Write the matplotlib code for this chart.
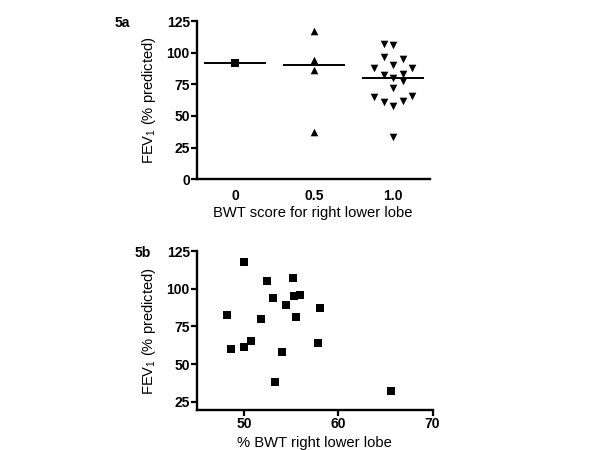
import matplotlib
matplotlib.use('Agg')
import matplotlib.pyplot as plt
import numpy as np

plt.rcParams['font.family'] = ['Liberation Sans', 'DejaVu Sans']
plt.rcParams['mathtext.fontset'] = 'custom'
plt.rcParams['mathtext.rm'] = 'Liberation Sans'
plt.rcParams['mathtext.default'] = 'rm'

# 5a: FEV1 by BWT score group
categorias = ['0', '0.5', '1.0']
fev_0 = [92]
fev_05 = [117, 94, 86, 37]
fev_10 = [107, 106, 97, 95, 88, 90, 88, 82, 83, 80, 78, 72, 65, 61, 58, 62, 66, 33]
# coluna de dispersão (beeswarm) para o grupo 1.0
coluna_10 = [-1, 0, -1, 1, -2, 0, 2, -1, 1, 0, 1, 0, -2, -1, 0, 1, 2, 0]
medianas = [92, 90, 80]

# 5b: FEV1 vs % BWT
bwt_pct = [50.0, 52.4, 55.2, 55.3, 55.9, 53.1, 54.5, 58.1, 48.2, 51.8, 55.5,
           48.6, 50.0, 50.7, 54.0, 57.8, 53.3, 65.6]
fev_pct = [118, 105, 107, 95, 96, 94, 89, 87, 82.5, 80, 81,
           60, 61, 65, 58, 64, 38, 32]

fig = plt.figure(figsize=(6, 4.5), dpi=100)
ax1 = fig.add_axes([0.328, 0.602, 0.388, 0.351])
ax2 = fig.add_axes([0.328, 0.089, 0.393, 0.353])

for ax in (ax1, ax2):
    for lado in ('top', 'right'):
        ax.spines[lado].set_visible(False)
    for lado in ('left', 'bottom'):
        ax.spines[lado].set_linewidth(1.7)
    ax.tick_params(axis='both', direction='out', length=4, width=1.6,
                   labelsize=10, pad=1)

# painel a
grupos = [fev_0, fev_05, fev_10]
colunas = [[0], [0, 0, 0, 0], coluna_10]
marcadores = ['s', '^', 'v']
passo = 0.12
for i, (vals, cols, m) in enumerate(zip(grupos, colunas, marcadores)):
    xs = i + np.array(cols) * passo
    ax1.scatter(xs, vals, marker=m, s=30, color='black', zorder=3, linewidths=0)
    ax1.plot([i - 0.38, i + 0.38], [medianas[i], medianas[i]], color='black', lw=1.4)

ax1.set_xlim(-0.49, 2.46)
ax1.set_ylim(0, 125)
ax1.set_yticks([0, 25, 50, 75, 100, 125])
ax1.set_xticks(range(len(categorias)))
ax1.set_xticklabels(categorias)
ax1.tick_params(axis='x', length=0, pad=7)
ax1.set_xlabel('BWT score for right lower lobe', fontsize=10.6, labelpad=2)
ax1.set_ylabel('FEV$_1$ (% predicted)', fontsize=10.6)
ax1.yaxis.set_label_coords(-0.165, 0.5)
for lbl in ax1.get_yticklabels() + ax1.get_xticklabels():
    lbl.set_fontweight('bold')
fig.text(122 / 600, 1 - 23 / 450, '5a', fontsize=10, fontweight='bold',
         ha='center', va='center')

# painel b
ax2.scatter(bwt_pct, fev_pct, marker='s', s=32, color='black', linewidths=0, zorder=3)
ax2.set_xlim(45, 70)
ax2.set_ylim(19.5, 125)
ax2.set_xticks([50, 60, 70])
ax2.set_yticks([25, 50, 75, 100, 125])
ax2.set_xlabel('% BWT right lower lobe', fontsize=10.6, labelpad=4)
ax2.set_ylabel('FEV$_1$ (% predicted)', fontsize=10.6)
ax2.yaxis.set_label_coords(-0.163, 0.5)
for lbl in ax2.get_yticklabels() + ax2.get_xticklabels():
    lbl.set_fontweight('bold')
fig.text(143 / 600, 1 - 253 / 450, '5b', fontsize=10, fontweight='bold',
         ha='center', va='center')

fig.savefig('out.png', dpi=100)
